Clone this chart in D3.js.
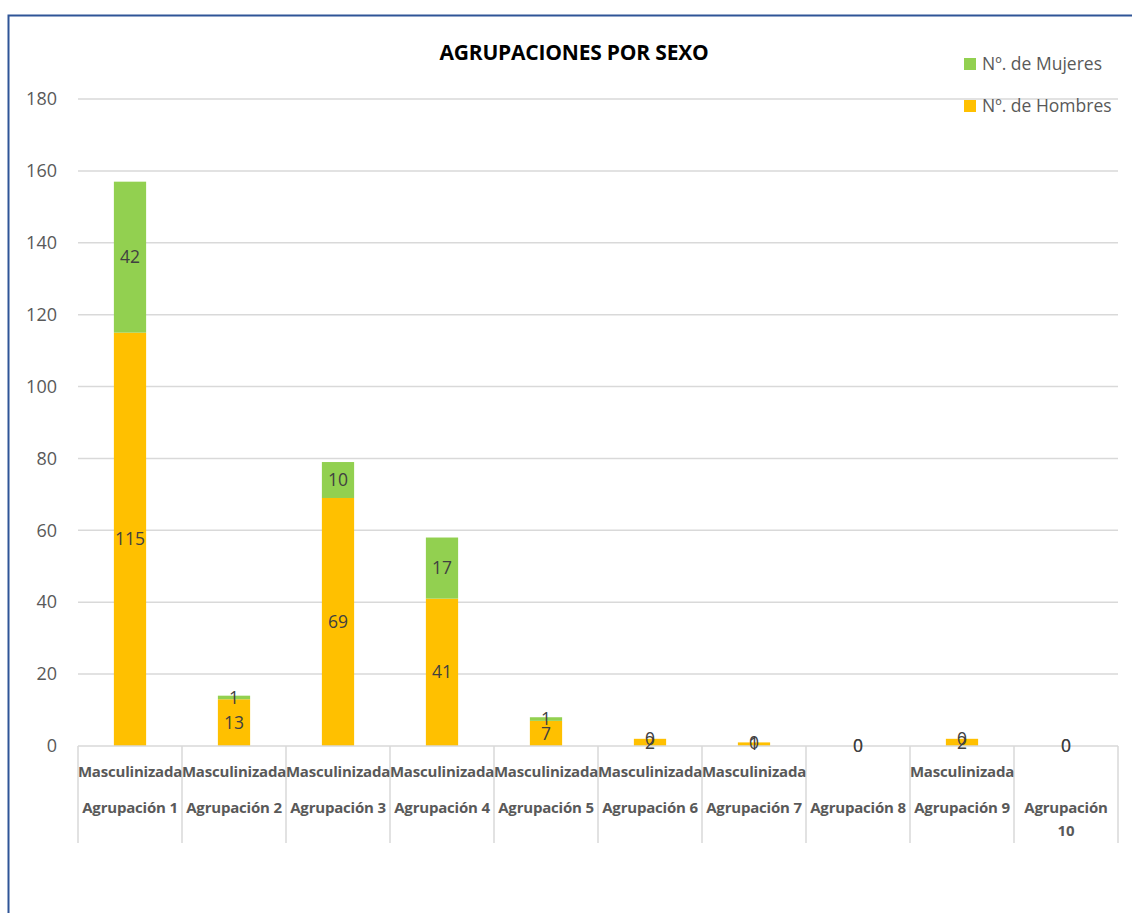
<!DOCTYPE html>
<html>
<head>
<meta charset="utf-8">
<script src="https://cdn.jsdelivr.net/npm/d3@7"></script>
<style>
  html, body { margin: 0; padding: 0; background: #fff; }
  svg { display: block; font-family: "Open Sans", "Noto Sans", sans-serif; }
</style>
</head>
<body>
<svg id="chart" width="1132" height="913"></svg>
<script>
// Grouped category axis: outer group label and inner profile label
const groups = ["Agrupación 1", "Agrupación 2", "Agrupación 3", "Agrupación 4", "Agrupación 5",
                "Agrupación 6", "Agrupación 7", "Agrupación 8", "Agrupación 9", "Agrupación 10"];
const profiles = ["Masculinizada", "Masculinizada", "Masculinizada", "Masculinizada", "Masculinizada",
                  "Masculinizada", "Masculinizada", "", "Masculinizada", ""];
const hombres = [115, 13, 69, 41, 7, 2, 1, 0, 2, 0];
const mujeres = [42, 1, 10, 17, 1, 0, 0, 0, 0, 0];
const yTicks = [0, 20, 40, 60, 80, 100, 120, 140, 160, 180];
const seriesNames = ["Nº. de Hombres", "Nº. de Mujeres"];
const seriesColors = ["#ffc000", "#92d050"];
const title = "AGRUPACIONES POR SEXO";

const svg = d3.select("#chart");
const plot = { left: 78, right: 1118, top: 99, bottom: 746 };

// Outer frame (left and top edges visible)
svg.append("rect")
  .attr("x", 8.5).attr("y", 15.5)
  .attr("width", 1200).attr("height", 1000)
  .attr("fill", "none")
  .attr("stroke", "#2f5597")
  .attr("stroke-width", 2);

const x = d3.scaleBand().domain(groups).range([plot.left, plot.right]).paddingInner(0).paddingOuter(0);
const y = d3.scaleLinear().domain([0, 180]).range([plot.bottom, plot.top]);

// Gridlines
svg.append("g")
  .selectAll("line")
  .data(yTicks.filter(d => d > 0))
  .join("line")
  .attr("x1", plot.left).attr("x2", plot.right)
  .attr("y1", d => y(d)).attr("y2", d => y(d))
  .attr("stroke", "#d9d9d9").attr("stroke-width", 1.5);

// Y axis labels
const yAxis = d3.axisLeft(y).tickValues(yTicks).tickSize(0).tickPadding(21);
const yg = svg.append("g").attr("transform", `translate(${plot.left},0)`).call(yAxis);
yg.select(".domain").remove();
yg.selectAll("text")
  .attr("fill", "#595959")
  .style("font-size", "18px")
  .style("font-family", "'Open Sans', sans-serif");

// Stacked data
const rows = groups.map((g, i) => ({ group: g, h: hombres[i], m: mujeres[i] }));
const stack = d3.stack().keys(["h", "m"])(rows);

const barW = x.bandwidth() * 0.31;
const layers = svg.append("g").selectAll("g")
  .data(stack)
  .join("g")
  .attr("fill", (d, i) => seriesColors[i]);

layers.selectAll("rect")
  .data(d => d.filter(s => s[1] - s[0] > 0))
  .join("rect")
  .attr("x", d => x(d.data.group) + (x.bandwidth() - barW) / 2)
  .attr("width", barW)
  .attr("y", d => y(d[1]))
  .attr("height", d => y(d[0]) - y(d[1]));

// Category axis line and separators
svg.append("line")
  .attr("x1", plot.left).attr("x2", plot.right)
  .attr("y1", plot.bottom).attr("y2", plot.bottom)
  .attr("stroke", "#d9d9d9").attr("stroke-width", 1.5);

const seps = groups.map(g => x(g)).concat([plot.right]);
svg.append("g").selectAll("line")
  .data(seps)
  .join("line")
  .attr("x1", d => d).attr("x2", d => d)
  .attr("y1", plot.bottom).attr("y2", 843)
  .attr("stroke", "#d9d9d9").attr("stroke-width", 1.5);

// Value labels, centred in each segment
stack.forEach((layer) => {
  svg.append("g").selectAll("text")
    .data(layer)
    .join("text")
    .attr("x", d => x(d.data.group) + x.bandwidth() / 2)
    .attr("y", d => (y(d[0]) + y(d[1])) / 2)
    .attr("dy", "0.35em")
    .attr("text-anchor", "middle")
    .attr("fill", "#404040")
    .style("font-size", "17.5px")
    .text(d => d[1] - d[0]);
});

// Category labels (two levels)
const catFont = "'Open Sans', sans-serif";
svg.append("g").selectAll("text")
  .data(profiles)
  .join("text")
  .attr("x", (d, i) => x(groups[i]) + x.bandwidth() / 2)
  .attr("y", 772)
  .attr("dy", "0.35em")
  .attr("text-anchor", "middle")
  .attr("fill", "#595959")
  .style("font-weight", "bold")
  .style("font-size", "15px")
  .style("letter-spacing", "-0.2px")
  .style("font-family", catFont)
  .text(d => d);

const groupLabels = svg.append("g").selectAll("text")
  .data(groups)
  .join("text")
  .attr("x", d => x(d) + x.bandwidth() / 2)
  .attr("y", 808)
  .attr("text-anchor", "middle")
  .attr("fill", "#595959")
  .style("font-weight", "bold")
  .style("font-size", "15px")
  .style("letter-spacing", "-0.2px")
  .style("font-family", catFont);

groupLabels.each(function (d) {
  const t = d3.select(this);
  const parts = d.split(" ");
  if (parts[1] && parts[1].length > 1) {
    t.append("tspan").attr("x", x(d) + x.bandwidth() / 2).attr("dy", "0.35em").text(parts[0]);
    t.append("tspan").attr("x", x(d) + x.bandwidth() / 2).attr("dy", "23").text(parts[1]);
  } else {
    t.append("tspan").attr("dy", "0.35em").text(d);
  }
});

// Title
svg.append("text")
  .attr("x", 574).attr("y", 53)
  .attr("dy", "0.35em")
  .attr("text-anchor", "middle")
  .attr("fill", "#000")
  .style("font-weight", "bold")
  .style("font-size", "21px")
  .style("letter-spacing", "-0.2px")
  .text(title);

// Legend (Mujeres on top)
const legendItems = [1, 0].map(i => ({ name: seriesNames[i], color: seriesColors[i] }));
const legend = svg.append("g").selectAll("g")
  .data(legendItems)
  .join("g")
  .attr("transform", (d, i) => `translate(964, ${58 + i * 42})`);
legend.append("rect").attr("width", 12).attr("height", 12).attr("fill", d => d.color);
legend.append("text")
  .attr("x", 18).attr("y", 6)
  .attr("dy", "0.35em")
  .attr("fill", "#595959")
  .style("font-size", "17.5px")
  .text(d => d.name);
</script>
</body>
</html>
